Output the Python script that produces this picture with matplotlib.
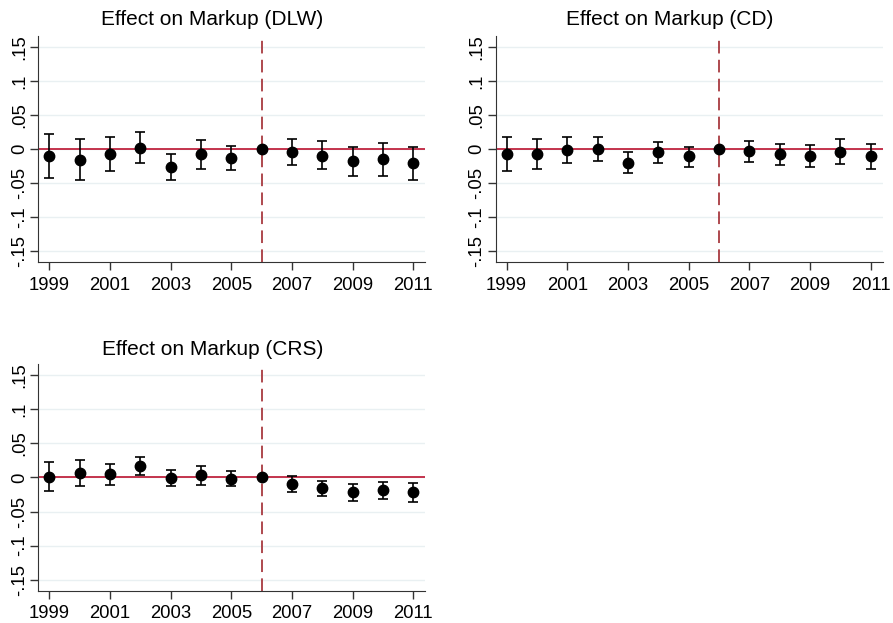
import numpy as np
import matplotlib.pyplot as plt

plt.rcParams['font.family'] = ['Liberation Sans', 'DejaVu Sans']

years = np.arange(1999, 2012)

# Effect on Markup (DLW)
dlw_coef = [-0.010, -0.016, -0.008, 0.002, -0.026, -0.008, -0.013, 0.0,
            -0.004, -0.010, -0.018, -0.015, -0.021]
dlw_hi = [0.022, 0.015, 0.018, 0.025, -0.007, 0.013, 0.005, 0.0,
          0.015, 0.011, 0.003, 0.009, 0.003]
dlw_lo = [-0.043, -0.046, -0.032, -0.021, -0.046, -0.029, -0.031, 0.0,
          -0.023, -0.030, -0.039, -0.039, -0.046]

# Effect on Markup (CD)
cd_coef = [-0.007, -0.007, -0.002, 0.000, -0.020, -0.005, -0.011, 0.0,
           -0.003, -0.008, -0.010, -0.004, -0.011]
cd_hi = [0.018, 0.015, 0.017, 0.018, -0.004, 0.010, 0.003, 0.0,
         0.012, 0.008, 0.006, 0.015, 0.008]
cd_lo = [-0.033, -0.029, -0.021, -0.018, -0.036, -0.021, -0.026, 0.0,
         -0.019, -0.024, -0.026, -0.022, -0.030]

# Effect on Markup (CRS)
crs_coef = [0.001, 0.006, 0.005, 0.017, -0.001, 0.003, -0.002, 0.0,
            -0.010, -0.016, -0.022, -0.019, -0.022]
crs_hi = [0.022, 0.026, 0.020, 0.030, 0.011, 0.016, 0.009, 0.0,
          0.002, -0.005, -0.009, -0.007, -0.008]
crs_lo = [-0.020, -0.013, -0.011, 0.004, -0.013, -0.011, -0.012, 0.0,
          -0.021, -0.028, -0.034, -0.032, -0.036]

# title, data, axes rect, title x (centre of graph region), title baseline y
panels = [
    ('Effect on Markup (DLW)', dlw_coef, dlw_lo, dlw_hi,
     [0.043, 0.5795, 0.433, 0.3628], 0.238, 0.960),
    ('Effect on Markup (CD)', cd_coef, cd_lo, cd_hi,
     [0.555, 0.5795, 0.4334, 0.3628], 0.750, 0.960),
    ('Effect on Markup (CRS)', crs_coef, crs_lo, crs_hi,
     [0.043, 0.0518, 0.433, 0.3639], 0.238, 0.430),
]

yticks = [-0.15, -0.1, -0.05, 0, 0.05, 0.1, 0.15]
ylabels = ['-.15', '-.1', '-.05', '0', '.05', '.1', '.15']

fig = plt.figure(figsize=(8.93, 6.23), dpi=100)

for title, coef, lo, hi, pos, tx, ty in panels:
    ax = fig.add_axes(pos)
    coef = np.array(coef)
    err = [coef - np.array(lo), np.array(hi) - coef]
    for yv in yticks:
        ax.axhline(yv, color='#e9f0f2', linewidth=1.0, zorder=0)
    ax.axhline(0, color='#c0243f', linewidth=1.3, zorder=1)
    ax.axvline(2006, color='#a83a40', linewidth=1.3, linestyle=(0, (7, 3.5)), zorder=1)
    ax.errorbar(years, coef, yerr=err, fmt='o', color='black', markersize=7.5,
                elinewidth=1.2, capsize=3.6, capthick=1.2, zorder=3)
    ax.set_xlim(1998.64, 2011.39)
    ax.set_ylim(-0.166, 0.166)
    ax.set_xticks(np.arange(1999, 2012, 2))
    ax.set_yticks(yticks)
    ax.set_yticklabels(ylabels, rotation=90, va='center')
    ax.tick_params(labelsize=13.3, length=5.5, width=1, color='#333333')
    ax.tick_params(axis='x', pad=5)
    ax.tick_params(axis='y', pad=2)
    ax.spines['top'].set_visible(False)
    ax.spines['right'].set_visible(False)
    ax.spines['left'].set_color('#333333')
    ax.spines['bottom'].set_color('#333333')
    fig.text(tx, ty, title, fontsize=15, ha='center', va='baseline')

plt.savefig('out.png', dpi=100)
